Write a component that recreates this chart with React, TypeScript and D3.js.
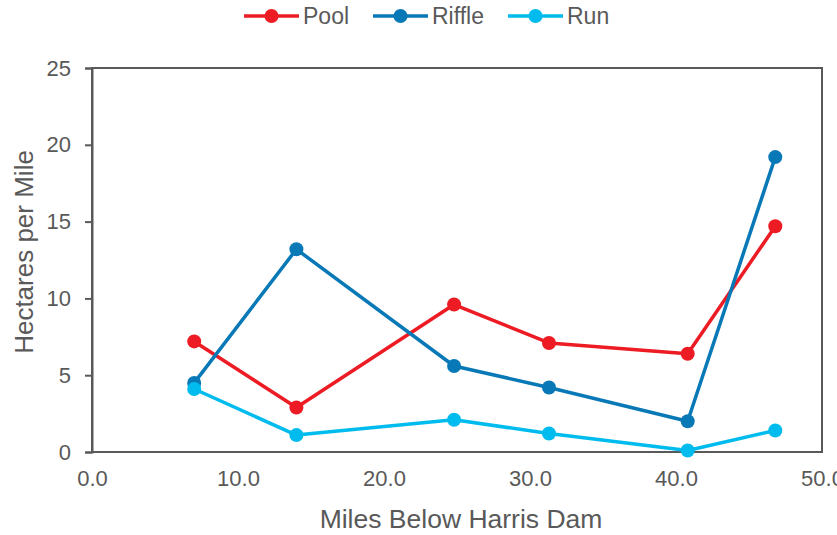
import React, { useRef, useEffect } from 'react';
import * as d3 from 'd3';

const miles = [7.0, 14.0, 24.8, 31.3, 40.8, 46.8];
const pool = [7.2, 2.9, 9.6, 7.1, 6.4, 14.7];
const riffle = [4.5, 13.2, 5.6, 4.2, 2.0, 19.2];
const run = [4.1, 1.1, 2.1, 1.2, 0.1, 1.4];
const seriesNames = ['Pool', 'Riffle', 'Run'];
const seriesColors = ['#ED1C24', '#0878B6', '#00BCEE'];
const xTicks = [0, 10, 20, 30, 40, 50];
const yTicks = [0, 5, 10, 15, 20, 25];

const W = 837;
const H = 535;
const FONT = '"Liberation Sans", Arial, sans-serif';
const TEXT = '#595959';

export default function App() {
  const ref = useRef<SVGSVGElement>(null);

  useEffect(() => {
    if (!ref.current) return;
    const svg = d3.select(ref.current);
    svg.selectAll('*').remove();

    const m = { left: 92, right: 15, top: 68, bottom: 83 };
    const x = d3.scaleLinear().domain([0, 50]).range([m.left, W - m.right]);
    const y = d3.scaleLinear().domain([0, 25]).range([H - m.bottom, m.top]);

    // frame
    svg.append('rect')
      .attr('x', x(0)).attr('y', y(25))
      .attr('width', x(50) - x(0)).attr('height', y(0) - y(25))
      .attr('fill', 'none').attr('stroke', '#595959').attr('stroke-width', 2);

    // y axis
    const yAxis = svg.append('g')
      .attr('transform', `translate(${x(0)},0)`)
      .call(d3.axisLeft(y).tickValues(yTicks).tickSize(7).tickPadding(14).tickFormat(d3.format('d')));
    yAxis.select('.domain').attr('stroke', '#595959').attr('stroke-width', 2);
    yAxis.selectAll('line').attr('stroke', '#595959').attr('stroke-width', 2);
    yAxis.selectAll('text').attr('fill', TEXT).style('font', `22px ${FONT}`);

    // x axis (no ticks, labels only; the 50.0 label runs off the right edge as in the source)
    const xAxis = svg.append('g')
      .attr('transform', `translate(0,${y(0)})`)
      .call(d3.axisBottom(x).tickValues(xTicks).tickSize(0).tickPadding(18).tickFormat(d3.format('.1f')));
    xAxis.select('.domain').remove();
    xAxis.selectAll('text').attr('fill', TEXT).style('font', `22px ${FONT}`);

    // titles
    svg.append('text')
      .attr('x', 461).attr('y', 528)
      .attr('text-anchor', 'middle').attr('fill', TEXT)
      .style('font', `26.5px ${FONT}`)
      .text('Miles Below Harris Dam');
    svg.append('text')
      .attr('transform', `translate(33,252) rotate(-90)`)
      .attr('text-anchor', 'middle').attr('fill', TEXT)
      .style('font', `26px ${FONT}`)
      .text('Hectares per Mile');

    const data = [pool, riffle, run];
    const line = d3.line<number>().x((_, i) => x(miles[i])).y(d => y(d));

    data.forEach((vals, s) => {
      const g = svg.append('g');
      g.append('path')
        .attr('d', line(vals))
        .attr('fill', 'none')
        .attr('stroke', seriesColors[s])
        .attr('stroke-width', 3.5)
        .attr('stroke-linejoin', 'round');
      g.selectAll('circle')
        .data(vals)
        .join('circle')
        .attr('cx', (_, i) => x(miles[i]))
        .attr('cy', d => y(d))
        .attr('r', 7)
        .attr('fill', seriesColors[s]);
    });

    // legend
    const legendX = [244, 373, 508];
    seriesNames.forEach((name, i) => {
      const g = svg.append('g').attr('transform', `translate(${legendX[i]},16)`);
      g.append('line').attr('x1', 0).attr('x2', 55).attr('y1', 0).attr('y2', 0)
        .attr('stroke', seriesColors[i]).attr('stroke-width', 3.5);
      g.append('circle').attr('cx', 27.5).attr('cy', 0).attr('r', 7).attr('fill', seriesColors[i]);
      g.append('text').attr('x', 59).attr('y', 8).attr('fill', TEXT)
        .style('font', `23px ${FONT}`).text(name);
    });
  }, []);

  return <svg ref={ref} width={W} height={H} style={{ display: 'block', position: 'absolute', left: 0, top: 0, background: '#fff' }} />;
}
